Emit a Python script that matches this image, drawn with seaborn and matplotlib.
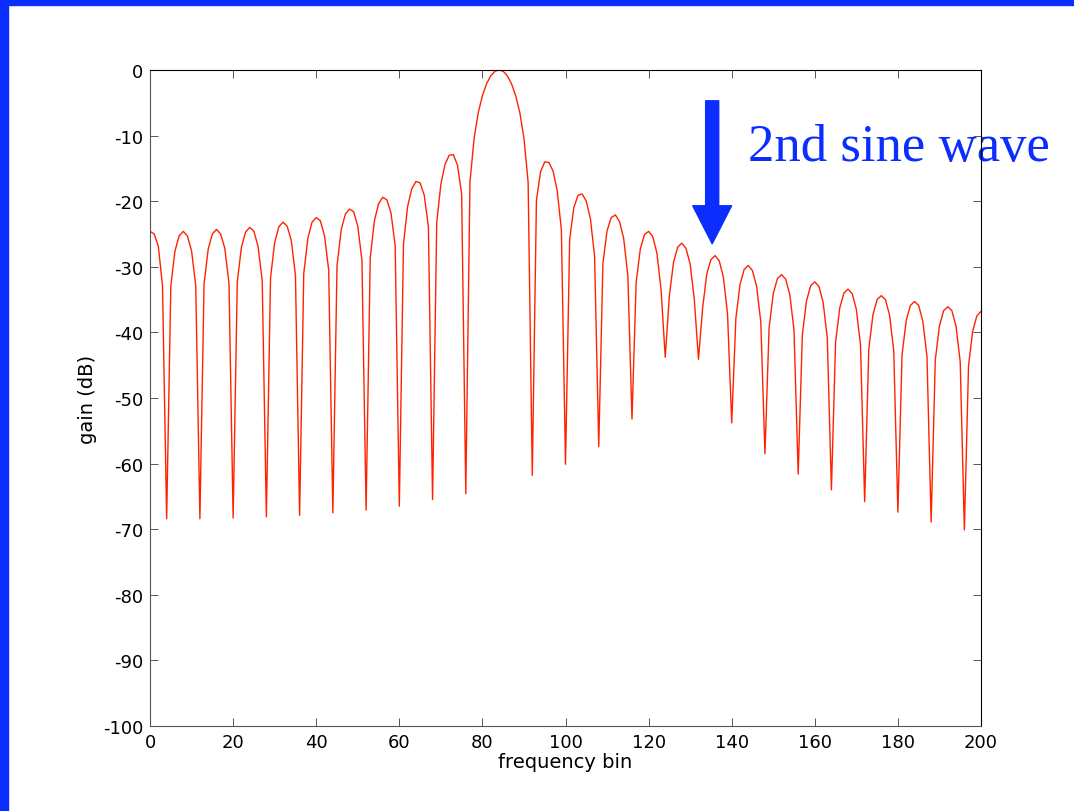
import matplotlib
matplotlib.use("Agg")
import matplotlib.pyplot as plt
from matplotlib.patches import Rectangle
import seaborn as sns

# gain, one value per frequency bin (0..200)
freq_bin = list(range(201))
gain_db = [
    -24.6, -25.0, -26.9, -32.9,                                # 0-3
    -68.4, -32.9, -27.6, -25.3, -24.6, -25.3, -27.6, -32.9,    # 4-11
    -68.4, -32.6, -27.3, -25.0, -24.3, -25.0, -27.2, -32.5,    # 12-19
    -68.3, -32.3, -27.0, -24.7, -24.0, -24.6, -26.9, -32.1,    # 20-27
    -68.1, -31.7, -26.3, -23.9, -23.2, -23.8, -26.0, -31.3,    # 28-35
    -67.9, -31.0, -25.6, -23.2, -22.5, -23.0, -25.3, -30.5,    # 36-43
    -67.5, -29.9, -24.4, -22.0, -21.2, -21.6, -23.8, -29.0,    # 44-51
    -67.1, -28.6, -23.0, -20.4, -19.4, -19.8, -21.8, -26.8,    # 52-59
    -66.5, -26.5, -20.8, -18.1, -17.0, -17.2, -19.1, -23.9,    # 60-67
    -65.5, -23.3, -17.4, -14.4, -13.0, -12.9, -14.5, -18.9,    # 68-75
    -64.6, -17.1, -10.4, -6.5, -3.9, -2.1, -0.9, -0.2,         # 76-83
    0.0, -0.2, -0.9, -2.1, -3.9, -6.5, -10.4, -17.1,           # 84-91
    -61.8, -19.9, -15.5, -14.0, -14.1, -15.4, -18.4, -24.3,    # 92-99
    -60.1, -25.8, -21.0, -19.1, -18.9, -20.0, -22.7, -28.4,    # 100-107
    -57.4, -29.5, -24.5, -22.5, -22.1, -23.1, -25.7, -31.3,    # 108-115
    -53.2, -32.4, -27.3, -25.1, -24.6, -25.4, -27.9, -33.5,    # 116-123
    -43.8, -34.4, -29.3, -27.0, -26.4, -27.2, -29.6, -35.0,    # 124-131
    -44.1, -36.3, -31.1, -28.9, -28.3, -29.1, -31.6, -37.2,    # 132-139
    -53.8, -37.9, -32.7, -30.4, -29.8, -30.6, -33.0, -38.4,    # 140-147
    -58.5, -39.3, -34.1, -31.8, -31.2, -31.9, -34.3, -39.7,    # 148-155
    -61.6, -40.4, -35.2, -32.9, -32.3, -33.0, -35.4, -40.8,    # 156-163
    -64.0, -41.5, -36.3, -34.0, -33.4, -34.1, -36.5, -41.9,    # 164-171
    -65.8, -42.5, -37.3, -35.0, -34.4, -35.0, -37.4, -42.8,    # 172-179
    -67.4, -43.4, -38.2, -35.9, -35.3, -35.9, -38.3, -43.7,    # 180-187
    -68.9, -44.2, -39.0, -36.7, -36.1, -36.7, -39.1, -44.5,    # 188-195
    -70.1, -45.1, -39.8, -37.5, -36.8,                         # 196-200
]
x_ticks = list(range(0, 201, 20))
y_ticks = list(range(-100, 1, 10))

arrow_x = 135.3
arrow_from, arrow_to = -4.7, -26.5
note = "2nd sine wave"

blue = "#0b2eff"
red = "#ff2200"

sns.set_style("ticks")
plt.rcParams["font.family"] = ["DejaVu Sans"]
plt.rcParams["axes.unicode_minus"] = False

fig = plt.figure(figsize=(10.74, 8.12), dpi=100)
ax = fig.add_axes([0.1397, 0.1047, 0.7737, 0.8079])

sns.lineplot(x=freq_bin, y=gain_db, ax=ax, color=red, linewidth=1.0,
             estimator=None, sort=False)

ax.set_xlim(0, 200)
ax.set_ylim(-100, 0)
ax.set_xticks(x_ticks)
ax.set_yticks(y_ticks)
ax.tick_params(direction="in", top=True, right=True, length=5.8, width=0.7,
               color="#555555", labelcolor="black", labelsize=13, pad=5)
ax.set_xlabel("frequency bin", fontsize=14, labelpad=1, color="black")
ax.set_ylabel("gain (dB)", fontsize=14, labelpad=4, color="black")
for side in ["top", "right"]:
    ax.spines[side].set_color("black")
for side in ["left", "bottom"]:
    ax.spines[side].set_color("#555555")
for s in ax.spines.values():
    s.set_linewidth(0.8)
    s.set_visible(True)

# arrow + note pointing at the second sine wave
ax.annotate("", xy=(arrow_x, arrow_to), xytext=(arrow_x, arrow_from),
            arrowprops=dict(arrowstyle="simple,head_length=27.4,head_width=28,tail_width=9.4",
                            mutation_scale=1, color=blue, shrinkA=0, shrinkB=0),
            annotation_clip=False)
ax.text(143.9, -13.7, note, fontsize=38, family="Liberation Serif", color=blue,
        ha="left", va="baseline", clip_on=False, zorder=2)

# slide frame: blue strips on top and left
fig.add_artist(Rectangle((0, 1 - 6 / 812), 1, 6 / 812, transform=fig.transFigure,
                         color=blue, zorder=10))
fig.add_artist(Rectangle((0, 0), 8 / 1074, 1, transform=fig.transFigure,
                         color=blue, zorder=10))

fig.savefig("out.png", dpi=100)
